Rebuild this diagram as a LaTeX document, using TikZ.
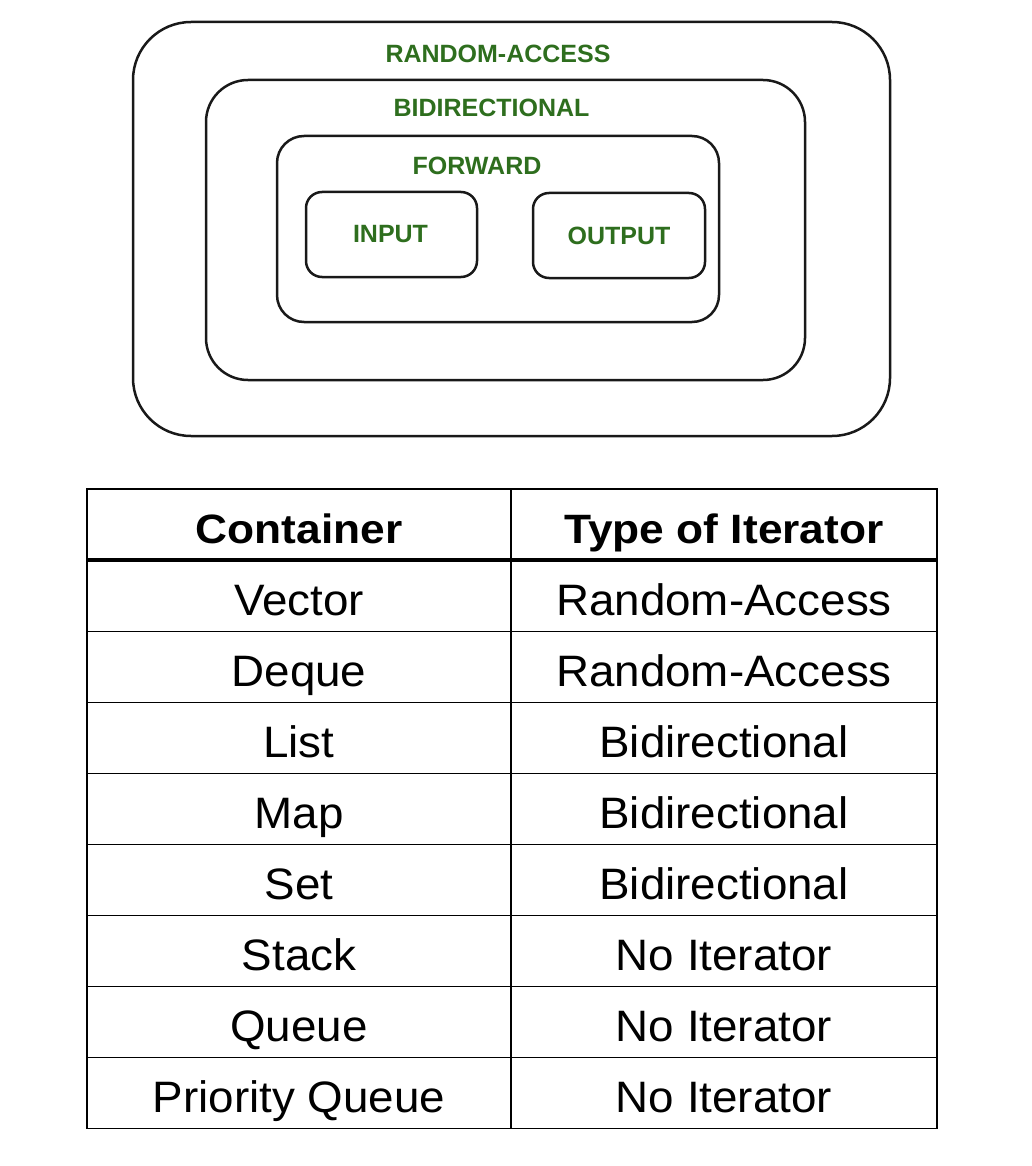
\documentclass[tikz,border=0pt]{standalone}
\usepackage{fontspec}
\setmainfont{Liberation Sans}
\newfontfamily\headfont{Liberation Sans}[FakeStretch=1.08]
\newfontfamily\bodyfont{Liberation Sans}[FakeStretch=1.04]
\usepackage{xcolor}
\usepackage{tikz}
\definecolor{itgreen}{HTML}{2E6E1E}

\begin{document}
\begin{tikzpicture}[x=0.5pt,y=-0.5pt,
  box/.style={draw=black!90,line width=1.25pt,inner sep=0pt},
  kind/.style={anchor=base,text=itgreen,font=\fontsize{12.5pt}{14pt}\selectfont\bfseries,inner sep=0pt},
  head/.style={anchor=base,font=\fontsize{20.5pt}{24pt}\headfont\bfseries,inner sep=0pt},
  cell/.style={anchor=base,font=\fontsize{22pt}{26pt}\bodyfont,inner sep=0pt},
  rule/.style={line width=0.75pt}]
\useasboundingbox (0,0) rectangle (1032,1166);
\node[box,rounded corners=29pt,minimum width=378.5pt,minimum height=207pt] (ra) at (511.5,229) {};
\node[box,rounded corners=21pt,minimum width=299.5pt,minimum height=150pt] (bi) at (505.5,230) {};
\node[box,rounded corners=13.5pt,minimum width=221pt,minimum height=93pt] (fw) at (498,229) {};
\node[box,rounded corners=8pt,minimum width=85.5pt,minimum height=42.5pt] (in) at (391.5,234.5) {};
\node[box,rounded corners=8pt,minimum width=86pt,minimum height=42.5pt] (out) at (619,235.5) {};
\node[kind] (raL) at (498,63) {RANDOM-ACCESS};
\node[kind] (biL) at (491.5,117) {BIDIRECTIONAL};
\node[kind] (fwL) at (477,175) {FORWARD};
\node[kind] (inL) at (390.5,242.5) {INPUT};
\node[kind] (outL) at (619,244) {OUTPUT};
% table
\draw[rule] (87,489) rectangle (937,1128.5);
\draw[rule] (511,489) -- (511,1128.5);
\draw[line width=1.75pt] (87,560) -- (937,560);
\foreach\i in {0,...,6}{\draw[rule] (87,631.5+71*\i) -- (937,631.5+71*\i);};
\node[head] (h1) at (299,543) {Container};
\node[head] (h2) at (724,543) {Type of Iterator};
\foreach\x[count=\i from 0] in {Vector,Deque,List,Map,Set,Stack,Queue,Priority Queue}{\node[cell] (c\i) at (299,615+71*\i){\x};};
\foreach\x[count=\i from 0] in {Random-Access,Random-Access,Bidirectional,Bidirectional,Bidirectional,No Iterator,No Iterator,No Iterator}{\node[cell] (t\i) at (724,615+71*\i){\x};};
\end{tikzpicture}
\end{document}
